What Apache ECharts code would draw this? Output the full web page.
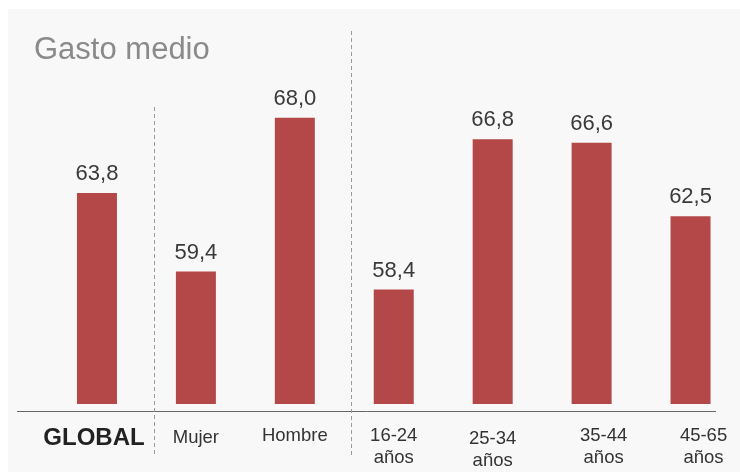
<!DOCTYPE html>
<html>
<head>
<meta charset="utf-8">
<script src="https://cdn.jsdelivr.net/npm/echarts@6/dist/echarts.min.js"></script>
<style>
html,body{margin:0;padding:0;background:#ffffff;}
#c{width:740px;height:472px;}
</style>
</head>
<body>
<div id="c"></div>
<script>
var categories = ['GLOBAL', 'Mujer', 'Hombre', '16-24\naños', '25-34\naños', '35-44\naños', '45-65\naños'];
var values = [63.8, 59.4, 68.0, 58.4, 66.8, 66.6, 62.5];
var titleText = 'Gasto medio';

var chart = echarts.init(document.getElementById('c'), null, {renderer: 'canvas'});
var labelStyles = ['g', 'm', 'a', 'a', 'b', 'c', 'd'];
chart.setOption({
  backgroundColor: '#ffffff',
  animation: false,
  title: {
    text: titleText,
    left: 29,
    top: 30,
    textStyle: {fontFamily: 'Liberation Sans, Arial, sans-serif', fontSize: 31, fontWeight: 'normal', color: '#8a8a8a'}
  },
  graphic: [
    {type: 'rect', z: -10, silent: true, shape: {x: 8, y: 9, width: 740, height: 470}, style: {fill: '#f8f8f8'}},
    {type: 'line', z: 10, silent: true, shape: {x1: 17, y1: 411.5, x2: 716, y2: 411.5}, style: {stroke: '#666666', lineWidth: 1}},
    {type: 'line', z: 10, silent: true, shape: {x1: 154.5, y1: 107, x2: 154.5, y2: 456}, style: {stroke: '#9a9a9a', lineWidth: 1, lineDash: [4, 3]}},
    {type: 'line', z: 10, silent: true, shape: {x1: 351.5, y1: 31, x2: 351.5, y2: 457}, style: {stroke: '#9a9a9a', lineWidth: 1, lineDash: [4, 3]}}
  ],
  grid: {left: 47.5, width: 697, top: 82, bottom: 68, containLabel: false},
  xAxis: {
    type: 'category',
    data: categories,
    axisLine: {show: false},
    axisTick: {show: false},
    axisLabel: {
      interval: 0,
      margin: 21,
      formatter: function (v, i) { return '{' + labelStyles[i] + '|' + v + '}'; },
      rich: {
        g: {fontFamily: 'Liberation Sans, Arial, sans-serif', fontSize: 24, fontWeight: 'bold', color: '#222222', lineHeight: 26, padding: [0, 6, 0, 0]},
        m: {fontFamily: 'Liberation Sans, Arial, sans-serif', fontSize: 18.5, color: '#333333', lineHeight: 22, padding: [4, 0, 0, 0]},
        a: {fontFamily: 'Liberation Sans, Arial, sans-serif', fontSize: 18.5, color: '#333333', lineHeight: 22},
        b: {fontFamily: 'Liberation Sans, Arial, sans-serif', fontSize: 18.5, color: '#333333', lineHeight: 22, padding: [6, 0, 0, 0]},
        c: {fontFamily: 'Liberation Sans, Arial, sans-serif', fontSize: 18.5, color: '#333333', lineHeight: 22, padding: [0, 0, 0, 24]},
        d: {fontFamily: 'Liberation Sans, Arial, sans-serif', fontSize: 18.5, color: '#333333', lineHeight: 22, padding: [0, 0, 0, 26]}
      }
    }
  },
  yAxis: {
    type: 'value',
    min: 52,
    max: 70,
    show: false,
    splitLine: {show: false}
  },
  series: [{
    type: 'bar',
    data: values,
    barWidth: 40,
    itemStyle: {color: '#b44747'},
    label: {
      show: true,
      position: 'top',
      distance: 8,
      fontFamily: 'Liberation Sans, Arial, sans-serif',
      fontSize: 22,
      color: '#3a3a3a',
      formatter: function (p) { return p.value.toFixed(1).replace('.', ','); }
    }
  }]
});
</script>
</body>
</html>
